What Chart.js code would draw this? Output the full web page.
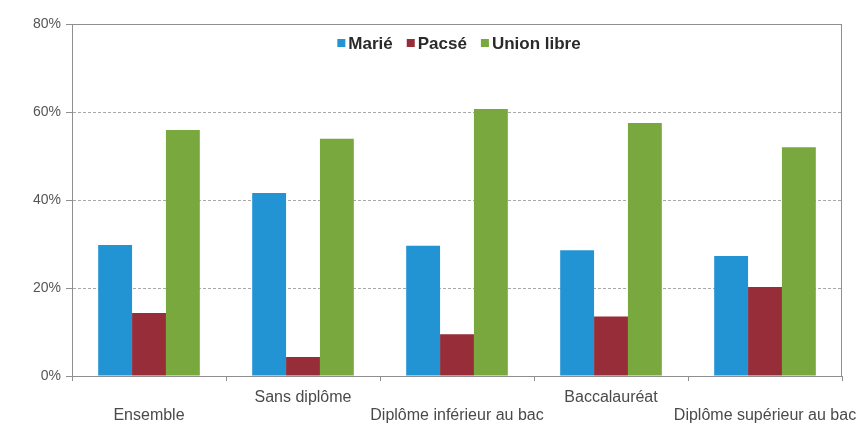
<!DOCTYPE html>
<html>
<head>
<meta charset="utf-8">
<script src="https://cdn.jsdelivr.net/npm/chart.js@4/dist/chart.umd.min.js"></script>
<style>
  html, body { margin: 0; padding: 0; background: #fff; overflow: hidden; }
  #wrap { position: relative; width: 856px; height: 427px; }
</style>
</head>
<body>
<div id="wrap"><canvas id="c" width="856" height="427"></canvas></div>
<script>
const categories = ['Ensemble', 'Sans diplôme', 'Diplôme inférieur au bac', 'Baccalauréat', 'Diplôme supérieur au bac'];
const seriesNames = ['Marié', 'Pacsé', 'Union libre'];
const marie = [29.8, 41.6, 29.6, 28.6, 27.3];
const pacse = [14.3, 4.3, 9.5, 13.5, 20.2];
const unionLibre = [55.9, 53.9, 60.7, 57.5, 52.0];
const yTicks = [0, 20, 40, 60, 80];
const colors = ['#2394d3', '#962d38', '#78a83e'];

// staggered labels: even indexes on the lower line
const labels = categories.map((c, i) => i % 2 === 0 ? ['', c] : [c]);

const frameAndLegend = {
  id: 'frameAndLegend',
  afterDraw(chart) {
    const { ctx, chartArea } = chart;
    ctx.save();
    ctx.strokeStyle = '#8f8f8f';
    ctx.lineWidth = 1;
    ctx.setLineDash([]);
    ctx.beginPath();
    ctx.moveTo(chartArea.left, chartArea.top + 0.5);
    ctx.lineTo(chartArea.right, chartArea.top + 0.5);
    ctx.moveTo(chartArea.right - 0.5, chartArea.top);
    ctx.lineTo(chartArea.right - 0.5, chartArea.bottom);
    ctx.stroke();

    // legend inside the plot
    ctx.font = 'bold 17px "Liberation Sans", Arial, sans-serif';
    ctx.textBaseline = 'middle';
    ctx.textAlign = 'left';
    const box = 8, gapT = 3, gapI = 14;
    const ds = chart.data.datasets;
    let total = 0;
    ds.forEach((d, i) => { total += box + gapT + ctx.measureText(d.label).width + (i < ds.length - 1 ? gapI : 0); });
    const cx = (chartArea.left + chartArea.right) / 2 + 2;
    let x = cx - total / 2;
    const y = 43;
    ds.forEach((d) => {
      ctx.fillStyle = d.backgroundColor;
      ctx.fillRect(x, y - box / 2, box, box);
      x += box + gapT;
      ctx.fillStyle = '#2a2a2a';
      ctx.fillText(d.label, x, y + 1);
      x += ctx.measureText(d.label).width + gapI;
    });
    ctx.restore();
  }
};

new Chart(document.getElementById('c'), {
  type: 'bar',
  data: {
    labels: labels,
    datasets: [
      { label: seriesNames[0], data: marie, backgroundColor: colors[0] },
      { label: seriesNames[1], data: pacse, backgroundColor: colors[1] },
      { label: seriesNames[2], data: unionLibre, backgroundColor: colors[2] }
    ]
  },
  options: {
    responsive: false,
    animation: false,
    devicePixelRatio: 1,
    layout: { padding: { top: 24, right: 14, left: 0, bottom: 0 } },
    datasets: { bar: { barPercentage: 1, categoryPercentage: 0.66 } },
    plugins: { legend: { display: false }, tooltip: { enabled: false } },
    scales: {
      x: {
        offset: true,
        grid: { display: true, drawOnChartArea: false, drawTicks: true, tickLength: 5, color: '#8f8f8f' },
        border: { display: true, color: '#8f8f8f', width: 1 },
        ticks: {
          maxRotation: 0, minRotation: 0, autoSkip: false, padding: 8.5,
          color: '#4a4a4a',
          font: { family: '"Liberation Sans", Arial, sans-serif', size: 16, lineHeight: 1.07 }
        },
        afterFit(scale) { scale.height = 51; scale.paddingRight = 0; scale.paddingLeft = 0; }
      },
      y: {
        min: 0, max: 80,
        afterBuildTicks(scale) { scale.ticks = yTicks.map(v => ({ value: v })); },
        grid: {
          color: '#a8a8a8', lineWidth: 1, drawTicks: true, tickLength: 6, tickColor: '#8f8f8f'
        },
        border: {
          display: true, color: '#8f8f8f', width: 1,
          dash: (ctx) => (ctx.tick && (ctx.tick.value === 80 || ctx.tick.value === 0)) ? [] : [3, 2]
        },
        ticks: {
          padding: 5,
          color: '#555555',
          font: { family: '"Liberation Sans", Arial, sans-serif', size: 14 },
          callback: (v) => v + '%'
        },
        afterFit(scale) { scale.width = 72; }
      }
    }
  },
  plugins: [frameAndLegend]
});
</script>
</body>
</html>
